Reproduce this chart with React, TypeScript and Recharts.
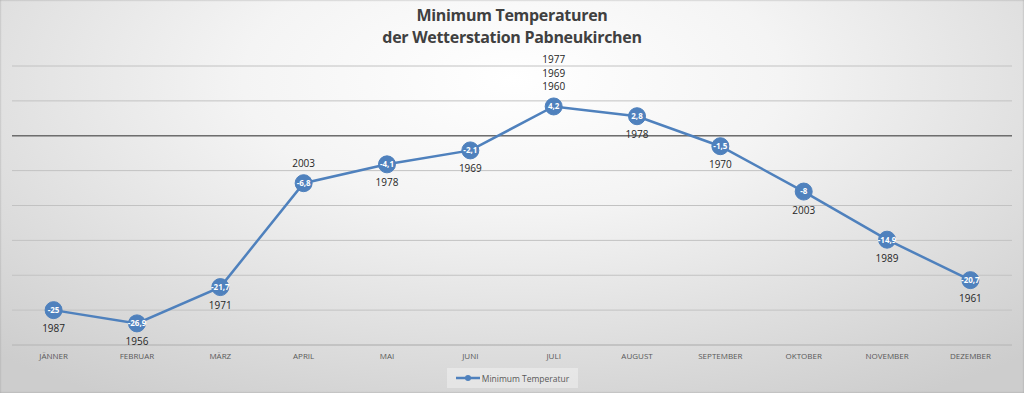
import React from 'react';
import { LineChart, Line, XAxis, YAxis, CartesianGrid, ReferenceLine, LabelList } from 'recharts';

const months = ['JÄNNER', 'FEBRUAR', 'MÄRZ', 'APRIL', 'MAI', 'JUNI', 'JULI', 'AUGUST', 'SEPTEMBER', 'OKTOBER', 'NOVEMBER', 'DEZEMBER'];
const minTemps = [-25, -26.9, -21.7, -6.8, -4.1, -2.1, 4.2, 2.8, -1.5, -8, -14.9, -20.7];
const recordYears = [['1987'], ['1956'], ['1971'], ['2003'], ['1978'], ['1969'], ['1977', '1969', '1960'], ['1978'], ['1970'], ['2003'], ['1989'], ['1961']];
const yTicks = [-30, -25, -20, -15, -10, -5, 0, 5, 10];

const data = months.map((m, i) => ({ month: m, value: minTemps[i], years: recordYears[i] }));

const BLUE = '#4f81bd';
const FONT = '"Open Sans", "Noto Sans", sans-serif';
const labelsAbove = new Set(['APRIL', 'JULI']);

const fmt = (v: any) => String(v).replace('.', ',');

const YearLabel = (props: any) => {
  const { x, y, index } = props;
  const d = data[index];
  if (!d) return null;
  const above = labelsAbove.has(d.month);
  const lines = d.years;
  return (
    <g>
      {lines.map((t: string, k: number) => {
        const yy = above ? y - 20 - (lines.length - 1 - k) * 13.5 : y + 18;
        return (
          <text key={k} x={x} y={yy} textAnchor="middle" dominantBaseline="central" fontSize={10} fill="#262626" fontFamily={FONT}>
            {t}
          </text>
        );
      })}
    </g>
  );
};

export default function App() {
  return (
    <div
      style={{
        position: 'absolute',
        left: 0,
        top: 0,
        width: 1024,
        height: 393,
        background: 'radial-gradient(ellipse 75% 95% at 50% 20%, #ffffff 0%, #f4f4f4 35%, #dcdcdc 75%, #cdcdcd 100%)',
        boxShadow: 'inset 0 0 2px #9a9a9a',
        overflow: 'hidden',
        fontFamily: FONT,
      }}
    >
      <div style={{ position: 'absolute', top: 4, left: 0, width: 1024, textAlign: 'center', fontWeight: 700, fontSize: 16, lineHeight: '22px', color: '#404040', fontFamily: FONT, letterSpacing: -0.3 }}>
        <div>Minimum Temperaturen</div>
        <div>der Wetterstation Pabneukirchen</div>
      </div>
      <LineChart width={1024} height={393} data={data} margin={{ top: 66, right: 12, bottom: 18, left: 12 }} style={{ position: 'absolute', left: 0, top: 0 }}>
        <CartesianGrid vertical={false} stroke="#c2c2c2" strokeWidth={1} />
        <XAxis
          dataKey="month"
          padding={{ left: 41.6, right: 41.6 }}
          tickLine={false}
          axisLine={{ stroke: '#bfbfbf', strokeWidth: 1.5 }}
          height={30}
          interval={0}
          tick={{ fontSize: 8, fill: '#595959', fontFamily: FONT }}
        />
        <YAxis hide domain={[-30, 10]} ticks={yTicks} type="number" />
        <ReferenceLine y={0} stroke="#6e6e6e" strokeWidth={1.5} />
        <Line
          type="linear"
          dataKey="value"
          stroke={BLUE}
          strokeWidth={2.5}
          dot={{ r: 8.5, fill: BLUE, stroke: BLUE, strokeWidth: 1 }}
          activeDot={false}
          isAnimationActive={false}
        >
          <LabelList dataKey="value" position="center" formatter={fmt} fill="#ffffff" fontSize={8} fontWeight={700} fontFamily={FONT} />
          <LabelList dataKey="value" content={<YearLabel />} />
        </Line>
      </LineChart>
      <div
        style={{
          position: 'absolute',
          left: 447,
          top: 368,
          width: 131,
          height: 20,
          background: 'rgba(255,255,255,0.35)',
          display: 'flex',
          alignItems: 'center',
          justifyContent: 'center',
          fontSize: 8.5,
          color: '#595959',
          fontFamily: FONT,
        }}
      >
        <svg width={24} height={8} style={{ marginRight: 2 }}>
          <line x1={0} y1={4} x2={24} y2={4} stroke={BLUE} strokeWidth={2.5} />
          <circle cx={12} cy={4} r={3} fill={BLUE} />
        </svg>
        <span>Minimum Temperatur</span>
      </div>
    </div>
  );
}
